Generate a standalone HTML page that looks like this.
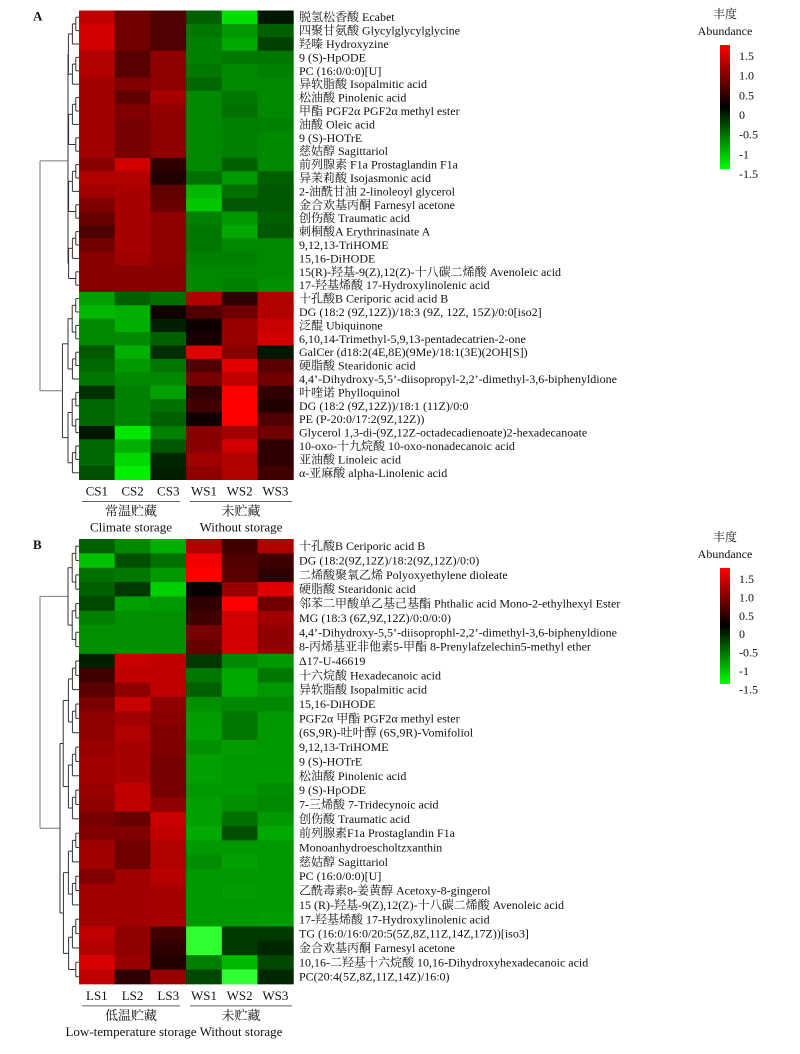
<!DOCTYPE html>
<html><head><meta charset="utf-8">
<style>
body{margin:0;background:#fff;}
svg text{font-family:"Liberation Serif","Noto Serif CJK SC",serif;fill:#111;}
</style></head><body>
<svg id="s" width="800" height="1049" xmlns="http://www.w3.org/2000/svg">
<defs><linearGradient id="lg" x1="0" y1="0" x2="0" y2="1">
<stop offset="0" stop-color="#ff0000"/><stop offset="0.5" stop-color="#000000"/><stop offset="1" stop-color="#00ff00"/></linearGradient></defs>
<g id="g"></g>
</svg>
<script>
const NS="http://www.w3.org/2000/svg";const G=document.getElementById('g');
function el(t,a,txt){const e=document.createElementNS(NS,t);for(const k in a)e.setAttribute(k,a[k]);if(txt!==undefined)e.textContent=txt;G.appendChild(e);return e;}
const A=[
["c00000","700000","500000","006000","00e000","001800"],
["d00000","700000","500000","007800","009800","006000"],
["d00000","700000","500000","008000","00a800","004000"],
["b00000","580000","900000","008000","007800","007800"],
["b00000","580000","900000","007800","008800","008000"],
["a00000","800000","900000","006800","008800","008800"],
["a00000","600000","a80000","008800","007800","008800"],
["a00000","800000","900000","008800","007000","008800"],
["a00000","780000","900000","008800","008000","008000"],
["a00000","780000","900000","008800","008000","008800"],
["a00000","780000","900000","008800","008000","008800"],
["880000","d00000","300000","008800","006000","008800"],
["b00000","b00000","200000","007000","009800","006000"],
["a00000","a80000","600000","00b800","007000","005800"],
["800000","a80000","680000","00c800","005800","005800"],
["680000","a80000","900000","008000","009800","006000"],
["500000","a80000","900000","007800","00a800","005800"],
["700000","a80000","900000","007800","008800","008800"],
["880000","a00000","900000","008000","008000","008800"],
["880000","880000","880000","008800","008800","008800"],
["880000","880000","880000","008800","008000","009000"],
["00a000","006000","007000","b00000","300000","b00000"],
["00b800","00b000","100000","500000","700000","b00000"],
["008800","00b000","002000","100000","980000","c80000"],
["008800","008800","006000","180000","980000","d00000"],
["005800","00b000","003000","e00000","880000","001800"],
["006800","009800","007800","500000","e00000","580000"],
["007800","008800","008800","780000","c00000","700000"],
["003000","008000","00a000","300000","ff0000","300000"],
["006800","008000","007000","400000","ff0000","200000"],
["006800","008000","006000","100000","ff0000","500000"],
["001800","00e800","008000","880000","a00000","700000"],
["006800","00b000","005800","880000","d00000","300000"],
["006800","00d800","002800","a00000","b00000","300000"],
["005000","00f000","002000","900000","b00000","400000"]];
const B=[
["006000","008800","00b000","b00000","400000","b00000"],
["00c000","005000","007000","f00000","500000","400000"],
["007000","007800","009800","ff0000","580000","300000"],
["006000","003800","00d000","080000","980000","e00000"],
["004800","00a000","009800","300000","ff0000","700000"],
["008000","009000","009000","400000","d00000","a00000"],
["009000","009000","009000","780000","d00000","900000"],
["009000","009000","009000","680000","d00000","900000"],
["002000","c80000","c00000","003800","008800","009800"],
["400000","c00000","c00000","007800","00a800","007800"],
["580000","900000","c00000","006000","00a800","009800"],
["780000","c80000","900000","009000","008800","008800"],
["900000","a00000","880000","009c00","007800","009800"],
["900000","b00000","800000","00a000","007800","009800"],
["980000","a80000","800000","009000","009c00","009800"],
["a00000","a80000","780000","00a000","009800","009800"],
["a00000","a80000","780000","00a000","009800","009800"],
["980000","c00000","780000","009800","009800","008c00"],
["900000","c00000","900000","00a000","009000","008800"],
["780000","680000","c80000","00a000","007000","009800"],
["800000","800000","c00000","00a800","005000","00a800"],
["a00000","700000","b00000","009800","009800","009800"],
["a00000","700000","b00000","008c00","00a000","009800"],
["800000","a00000","b80000","009800","009800","009800"],
["a00000","a00000","a80000","009800","009c00","009800"],
["a00000","a00000","a80000","009800","009800","009800"],
["a00000","a00000","a80000","009800","009800","009c00"],
["c00000","900000","400000","30ff30","003800","003800"],
["b00000","900000","300000","30ff30","003800","002800"],
["d80000","980000","200000","008000","00b800","004800"],
["c00000","300000","980000","004800","30ff30","002800"]];
const LA=["脱氢松香酸 Ecabet","四聚甘氨酸 Glycylglycylglycine","羟嗪 Hydroxyzine","9 (S)-HpODE","PC (16:0/0:0)[U]","异软脂酸 Isopalmitic acid","松油酸 Pinolenic acid","甲酯 PGF2α PGF2α methyl ester","油酸 Oleic acid","9 (S)-HOTrE","慈姑醇 Sagittariol","前列腺素 F1a Prostaglandin F1a","异茉莉酸 Isojasmonic acid","2-油酰甘油 2-linoleoyl glycerol","金合欢基丙酮 Farnesyl acetone","创伤酸 Traumatic acid","刺桐酸A Erythrinasinate A","9,12,13-TriHOME","15,16-DiHODE","15(R)-羟基-9(Z),12(Z)-十八碳二烯酸 Avenoleic acid","17-羟基烯酸 17-Hydroxylinolenic acid","十孔酸B Ceriporic acid acid B","DG (18:2 (9Z,12Z))/18:3 (9Z, 12Z, 15Z)/0:0[iso2]","泛醌 Ubiquinone","6,10,14-Trimethyl-5,9,13-pentadecatrien-2-one","GalCer (d18:2(4E,8E)(9Me)/18:1(3E)(2OH[S])","硬脂酸 Stearidonic acid","4,4’-Dihydroxy-5,5’-diisopropyl-2,2’-dimethyl-3,6-biphenyldione","叶喹诺 Phylloquinol","DG (18:2 (9Z,12Z))/18:1 (11Z)/0:0","PE (P-20:0/17:2(9Z,12Z))","Glycerol 1,3-di-(9Z,12Z-octadecadienoate)2-hexadecanoate","10-oxo-十九烷酸 10-oxo-nonadecanoic acid","亚油酸 Linoleic acid","α-亚麻酸 alpha-Linolenic acid"];
const LB=["十孔酸B Ceriporic acid B","DG (18:2(9Z,12Z)/18:2(9Z,12Z)/0:0)","二烯酸聚氧乙烯 Polyoxyethylene dioleate","硬脂酸 Stearidonic acid","邻苯二甲酸单乙基己基酯 Phthalic acid Mono-2-ethylhexyl Ester","MG (18:3 (6Z,9Z,12Z)/0:0/0:0)","4,4’-Dihydroxy-5,5’-diisoprophl-2,2’-dimethyl-3,6-biphenyldione","8-丙烯基亚非他素5-甲酯 8-Prenylafzelechin5-methyl ether","Δ17-U-46619","十六烷酸 Hexadecanoic acid","异软脂酸 Isopalmitic acid","15,16-DiHODE","PGF2α 甲酯 PGF2α methyl ester","(6S,9R)-吐叶醇 (6S,9R)-Vomifoliol","9,12,13-TriHOME","9 (S)-HOTrE","松油酸 Pinolenic acid","9 (S)-HpODE","7-三烯酸 7-Tridecynoic acid","创伤酸 Traumatic acid","前列腺素F1a Prostaglandin F1a","Monoanhydroescholtzxanthin","慈姑醇 Sagittariol","PC (16:0/0:0)[U]","乙酰毒素8-姜黄醇 Acetoxy-8-gingerol","15 (R)-羟基-9(Z),12(Z)-十八碳二烯酸 Avenoleic acid","17-羟基烯酸 17-Hydroxylinolenic acid","TG (16:0/16:0/20:5(5Z,8Z,11Z,14Z,17Z))[iso3]","金合欢基丙酮 Farnesyl acetone","10,16-二羟基十六烷酸 10,16-Dihydroxyhexadecanoic acid","PC(20:4(5Z,8Z,11Z,14Z)/16:0)"];
const x0=79,cw=35.7;
function tree(a,b,ys,h,minX,stroke){
  if(a===b)return{y:ys(a),x:79};
  const m=Math.floor((a+b)/2);
  const L=tree(a,m,ys,h,minX,stroke),R=tree(m+1,b,ys,h,minX,stroke);
  const x=Math.max(minX,Math.min(L.x,R.x)-3-h*(b-a)/40);
  el('line',{x1:L.x,y1:L.y,x2:x,y2:L.y,stroke,'stroke-width':1});
  el('line',{x1:R.x,y1:R.y,x2:x,y2:R.y,stroke,'stroke-width':1});
  el('line',{x1:x,y1:L.y,x2:x,y2:R.y,stroke,'stroke-width':1});
  return{y:(L.y+R.y)/2,x};
}
function panel(D,L,top,rh,letter,cols,g1,g2,g1e,g2e,splitRow,leg){
  D.forEach((r,i)=>r.forEach((c,j)=>el('rect',{x:x0+j*cw,y:top+i*rh,width:cw+0.5,height:rh+0.5,fill:'#'+c})));
  L.forEach((t,i)=>el('text',{x:299,y:top+i*rh+rh/2+4,'font-size':'12'},t));
  el('text',{x:33,y:top+10,'font-size':'13','font-weight':'bold'},letter);
  const ys=i=>top+i*rh+rh/2;
  const t1=tree(0,splitRow-1,ys,8,68,'#333');
  const t2=tree(splitRow,D.length-1,ys,8,60,'#333');
  el('line',{x1:t1.x,y1:t1.y,x2:40,y2:t1.y,stroke:'#777'});
  el('line',{x1:t2.x,y1:t2.y,x2:40,y2:t2.y,stroke:'#777'});
  el('line',{x1:40,y1:t1.y,x2:40,y2:t2.y,stroke:'#777'});
  const bot=top+D.length*rh;
  cols.forEach((c,j)=>el('text',{x:x0+j*cw+cw/2,y:bot+16,'font-size':'13','text-anchor':'middle'},c));
  el('line',{x1:82,y1:bot+22,x2:180,y2:bot+22,stroke:'#666'});
  el('line',{x1:190,y1:bot+22,x2:292,y2:bot+22,stroke:'#666'});
  el('text',{x:131,y:bot+36,'font-size':'13','text-anchor':'middle'},g1);
  el('text',{x:241,y:bot+36,'font-size':'13','text-anchor':'middle'},g2);
  el('text',{x:131,y:bot+52,'font-size':'13','text-anchor':'middle'},g1e);
  el('text',{x:241,y:bot+52,'font-size':'13','text-anchor':'middle'},g2e);
  const [ly,bh]=leg;
  el('text',{x:725,y:ly,'font-size':'12','text-anchor':'middle'},'丰度');
  el('text',{x:725,y:ly+17,'font-size':'12','text-anchor':'middle'},'Abundance');
  el('rect',{x:720,y:ly+27,width:10,height:bh,fill:'url(#lg)'});
  const labs=['1.5','1.0','0.5','0','-0.5','-1','-1.5'];
  labs.forEach((t,i)=>el('text',{x:739,y:ly+42+i*bh/6.3,'font-size':'12'},t));
}
panel(A,LA,10.5,13.4,'A',['CS1','CS2','CS3','WS1','WS2','WS3'],'常温贮藏','未贮藏','Climate storage','Without storage',21,[18,124]);
panel(B,LB,539,14.35,'B',['LS1','LS2','LS3','WS1','WS2','WS3'],'低温贮藏','未贮藏','Low-temperature storage','Without storage',8,[541,116]);
</script>
</body></html>
